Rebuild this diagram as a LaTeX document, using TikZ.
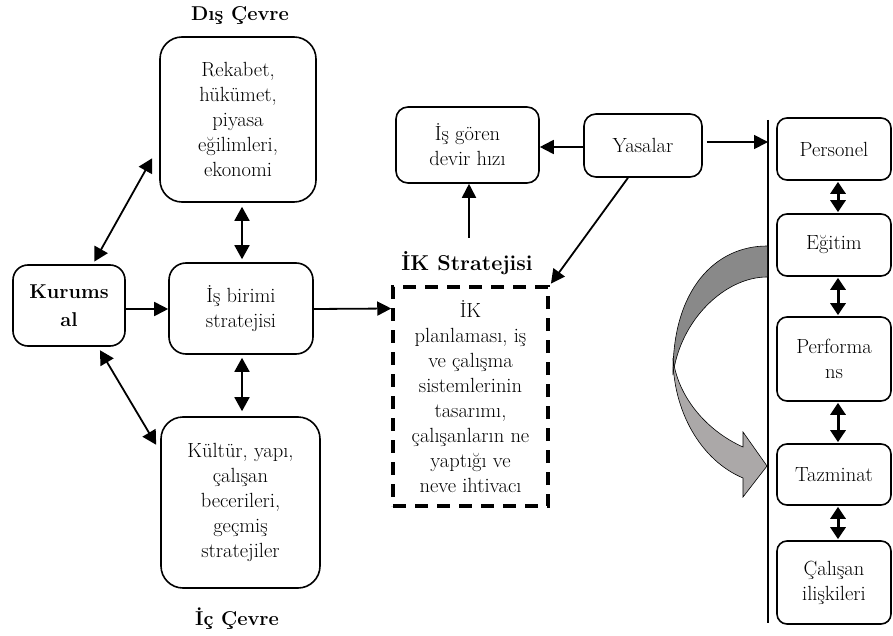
\documentclass[tikz,border=0pt]{standalone}
\usepackage{fontspec}
\usetikzlibrary{arrows.meta,calc}
\definecolor{darkband}{HTML}{898989}
\definecolor{lightband}{HTML}{ABA8A8}
\begin{document}
\begin{tikzpicture}[x=1pt,y=-1pt,
  txt/.style={font=\fontsize{20.5}{25}\selectfont, align=center},
  lbl/.style={font=\fontsize{20}{25}\selectfont\bfseries, align=center},
  box/.style={txt, draw, line width=1.6pt, inner sep=0pt},
  dashbox/.style={txt, draw, line width=3.5pt, dash pattern=on 13pt off 9pt, inner sep=0pt},
  ar/.style={line width=1.8pt, -{Triangle[length=14pt,width=14pt]}},
  dar/.style={line width=1.8pt, {Triangle[length=14pt,width=15pt]}-{Triangle[length=14pt,width=15pt]}},
  sdar/.style={line width=3pt, {Triangle[length=12pt,width=15pt]}-{Triangle[length=12pt,width=15pt]}},
  band/.style={draw=black, line width=0.6pt}
]
\useasboundingbox (0,0) rectangle (893,636);

% labels
\node[lbl] (dis) at (240,16) {Dış Çevre};
\node[lbl] (ic) at (237,619) {İç Çevre};
\node[lbl, font=\fontsize{21.5}{25}\selectfont\bfseries] (iklab) at (467,263) {İK Stratejisi};

% left boxes
\node[box, rounded corners=22pt, minimum width=156pt, minimum height=165pt] (rek) at (238,119.5)
  {Rekabet,\\hükümet,\\piyasa\\eğilimleri,\\ekonomi};
\node[box, rounded corners=15pt, minimum width=112pt, minimum height=81pt, font=\fontsize{20}{28}\selectfont\bfseries] (kur) at (69,305.5)
  {Kurums\\al};
\node[box, rounded corners=17pt, minimum width=144pt, minimum height=91pt] (isb) at (241,308.5)
  {İş birimi\\stratejisi};
\node[box, rounded corners=22pt, minimum width=159pt, minimum height=171pt] (kul) at (240.5,502.5)
  {Kültür, yapı,\\çalışan\\becerileri,\\geçmiş\\stratejiler};

% middle
\node[dashbox, minimum width=155pt, minimum height=219pt] (ik) at (470.5,396.5)
  {İK\\planlaması, iş\\ve çalışma\\sistemlerinin\\tasarımı,\\çalışanların ne\\yaptığı ve\\neve ihtivacı};
\node[box, rounded corners=12pt, minimum width=143pt, minimum height=76pt] (isg) at (467.5,145)
  {İş gören\\devir hızı};
\node[box, rounded corners=12pt, minimum width=118pt, minimum height=63pt] (yas) at (643,145.5)
  {Yasalar};

% right column
\coordinate (vtop) at (768,120);
\coordinate (vbot) at (768,623);
\draw[line width=1.6pt] (vtop) -- (vbot);
\node[box, rounded corners=10pt, minimum width=114pt, minimum height=62pt] (per) at (834,149) {Personel};
\node[box, rounded corners=10pt, minimum width=114pt, minimum height=62pt] (egi) at (834,245) {Eğitim};
\node[box, rounded corners=10pt, minimum width=114pt, minimum height=84pt] (prf) at (834,359) {Performa\\ns};
\node[box, rounded corners=10pt, minimum width=114pt, minimum height=61pt] (taz) at (834,474.5) {Tazminat};
\node[box, rounded corners=10pt, minimum width=114pt, minimum height=83pt] (cal) at (834,582.5) {Çalışan\\ilişkileri};

% curved gray arrow
\fill[darkband] (767,246) .. controls (715,246) and (672,290) .. (673,375)
  .. controls (680,320) and (725,277) .. (767,277) -- cycle;
\draw[band] (767,246) .. controls (715,246) and (672,290) .. (673,375)
  .. controls (680,320) and (725,277) .. (767,277);
\filldraw[band, fill=lightband] (673,358) .. controls (673,410) and (700,460) .. (743,478)
  -- (743,497) -- (767,466) -- (743,432) -- (743,447)
  .. controls (705,430) and (677,395) .. (673,358) -- cycle;

% connectors
\draw[dar, shorten <=4pt, shorten >=3pt] ($(rek.south)+(4,0)$) -- ($(isb.north)+(1,0)$);
\draw[dar, shorten <=3pt, shorten >=5pt] ($(isb.south)+(1,0)$) -- ($(kul.north)+(1.5,0)$);
\draw[dar, shorten <=3pt, shorten >=2pt] (kur.60) -- ($(rek.west)+(-6,37)$);
\draw[dar, shorten <=4pt, shorten >=2pt] (kur.-55) -- ($(kul.west)+(-3,-56)$);
\draw[ar] ($(kur.east)+(0,3.5)$) -- ($(isb.west)+(0,0.5)$);
\draw[ar] ($(isb.east)+(0,0.5)$) -- (isb.east -| ik.west);
\draw[ar, shorten <=10pt] ($(iklab.north)+(2,0)$) -- ($(isg.south)+(1.5,0)$);
\draw[ar] ($(yas.west)+(0,1.5)$) -- ($(isg.east)+(0,2)$);
\draw[ar, shorten >=2pt] ($(yas.south)+(-15,0)$) -- (ik.north east);
\coordinate (yv) at ($(yas.east)+(0,-3.5)$);
\draw[ar, shorten <=4pt] (yv) -- (yv -| vtop);
\draw[sdar] ($(per.south)+(4,1)$) -- ($(egi.north)+(4,-1)$);
\draw[sdar] ($(egi.south)+(4,1)$) -- ($(prf.north)+(4,-1)$);
\draw[sdar] ($(prf.south)+(4,1)$) -- ($(taz.north)+(4,-1)$);
\draw[sdar] ($(taz.south)+(4,1)$) -- ($(cal.north)+(4,-1)$);
\end{tikzpicture}
\end{document}
